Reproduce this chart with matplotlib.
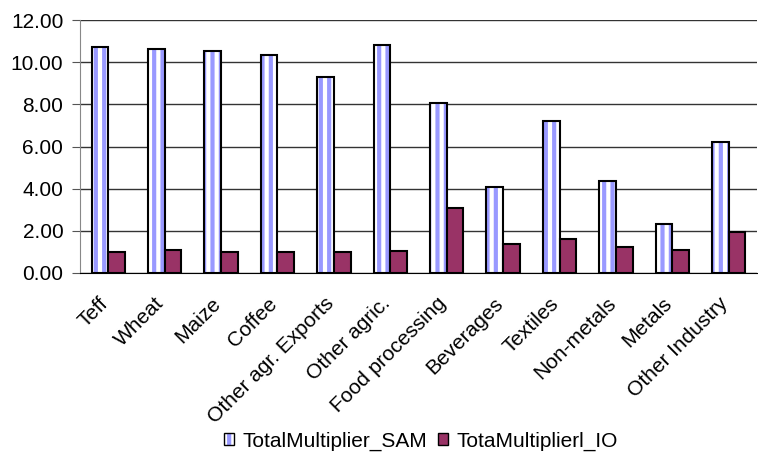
import matplotlib.pyplot as plt
import matplotlib.transforms as mtransforms
import numpy as np
from matplotlib.patches import Patch

plt.rcParams['font.family'] = ['Liberation Sans', 'DejaVu Sans']
plt.rcParams['hatch.linewidth'] = 3.0

sectors = ['Teff', 'Wheat', 'Maize', 'Coffee', 'Other agr. Exports', 'Other agric.',
           'Food processing', 'Beverages', 'Textiles', 'Non-metals', 'Metals', 'Other Industry']
multiplier_sam = [10.73, 10.62, 10.53, 10.34, 9.29, 10.81, 8.06, 4.10, 7.22, 4.37, 2.32, 6.19]
multiplier_io = [1.00, 1.08, 1.00, 0.98, 0.98, 1.06, 3.08, 1.37, 1.63, 1.25, 1.07, 1.93]
yticks = [0, 2, 4, 6, 8, 10, 12]

stripe = '#9999ff'
maroon = '#993366'
fs = 15

fig = plt.figure(figsize=(7.58, 4.54), dpi=100)
ax = fig.add_axes([80 / 758, 1 - 273 / 454, 677 / 758, (273 - 20) / 454])

x = np.arange(len(sectors))
w = 0.295
ax.bar(x - w / 2, multiplier_sam, w, color='white', edgecolor=stripe, hatch='||', linewidth=0, zorder=2)
ax.bar(x - w / 2, multiplier_sam, w, fill=False, edgecolor='black', linewidth=1.5, zorder=3)
ax.bar(x + w / 2, multiplier_io, w, color=maroon, edgecolor='black', linewidth=1.5, zorder=3)

ax.set_xlim(-0.5, len(sectors) - 0.5)
ax.set_ylim(0, 12)
ax.set_yticks(yticks)
ax.set_yticklabels(['%.2f' % v for v in yticks], fontsize=fs)
ax.yaxis.grid(True, color='#333333', linewidth=1)
ax.set_axisbelow(True)
ax.tick_params(axis='y', direction='out', length=6, color='#555555', pad=6)
ax.tick_params(axis='x', length=0, pad=15)
ax.set_xticks(x)
ax.set_xticklabels(sectors, rotation=45, ha='right', va='top', rotation_mode='anchor', fontsize=fs)
shift = mtransforms.ScaledTranslation(-10 / 100, 0, fig.dpi_scale_trans)
for lab in ax.get_xticklabels():
    lab.set_transform(lab.get_transform() + shift)

for s in ['top', 'right']:
    ax.spines[s].set_visible(False)
ax.spines['left'].set_color('#888888')
ax.spines['bottom'].set_color('black')

h_sam = (Patch(facecolor='white', edgecolor=stripe, hatch='||', linewidth=0),
         Patch(fill=False, edgecolor='black', linewidth=1))
h_io = Patch(facecolor=maroon, edgecolor='black', linewidth=1)
fig.legend([h_sam, h_io], ['TotalMultiplier_SAM', 'TotaMultiplierl_IO'],
           loc='center', bbox_to_anchor=(421 / 758, 1 - 441 / 454), ncol=2, frameon=False,
           fontsize=fs, handlelength=0.5, handleheight=0.5, handletextpad=0.4, columnspacing=0.5)

fig.savefig('out.png', dpi=100)
